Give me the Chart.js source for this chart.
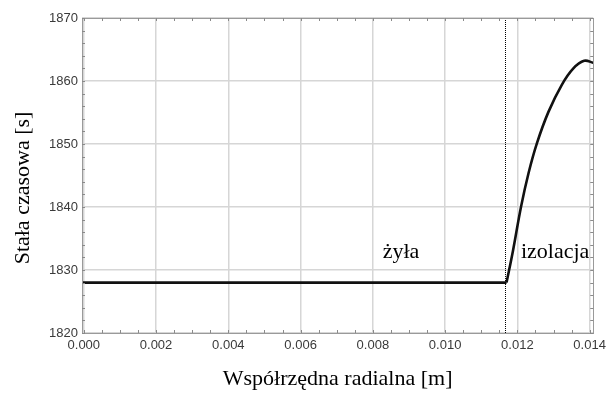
<!DOCTYPE html>
<html>
<head>
<meta charset="utf-8">
<script src="https://cdn.jsdelivr.net/npm/chart.js@4.4.1/dist/chart.umd.min.js"></script>
<style>
  html, body { margin: 0; padding: 0; background: #fff; }
  #wrap { width: 611px; height: 394px; }
</style>
</head>
<body>
<div id="wrap"><canvas id="chart"></canvas></div>
<script>
// core region: constant value
const coreX = [-0.00005, 0.0117];
const coreY = [1828, 1828];

// insulation region
const insX = [0.0117, 0.01188, 0.0121, 0.01231, 0.01254, 0.01286, 0.01323, 0.01355, 0.01385, 0.0141];
const insY = [1828, 1833.1, 1840.0, 1845.4, 1850.1, 1855.1, 1859.4, 1862.0, 1863.2, 1862.9];

const boundaryX = 0.01165;

const regionLabels = ['żyła', 'izolacja'];
const regionLabelX = [0.00878, 0.0121];
const regionLabelY = [1832.9, 1832.9];
const regionLabelAlign = ['center', 'left'];

const yTitle = 'Stała czasowa [s]';
const xTitle = 'Współrzędna radialna [m]';

const serif = '"Liberation Serif", "Times New Roman", serif';
const sans = '"Liberation Sans", Arial, sans-serif';

const toPoints = (xs, ys) => xs.map((x, i) => ({ x: x, y: ys[i] }));

const framePlugin = {
    id: 'frame',
    afterDraw(chart) {
        const ctx = chart.ctx;
        const a = chart.chartArea;
        const xs = chart.scales.x;
        const ys = chart.scales.y;
        ctx.save();

        // dotted boundary line
        const bx = Math.round(xs.getPixelForValue(boundaryX)) + 0.5;
        ctx.strokeStyle = '#000';
        ctx.lineWidth = 1;
        ctx.setLineDash([1, 1]);
        ctx.beginPath();
        ctx.moveTo(bx, a.top);
        ctx.lineTo(bx, a.bottom);
        ctx.stroke();
        ctx.setLineDash([]);

        // frame
        ctx.strokeStyle = '#9a9a9a';
        ctx.lineWidth = 1;
        ctx.strokeRect(Math.round(a.left) + 0.5, Math.round(a.top) + 0.5,
            Math.round(a.right - a.left), Math.round(a.bottom - a.top));

        // minor ticks
        ctx.strokeStyle = '#8a8a8a';
        for (let v = 0; v <= 0.014 + 1e-9; v += 0.0005) {
            const px = Math.round(xs.getPixelForValue(v)) + 0.5;
            ctx.beginPath();
            ctx.moveTo(px, a.bottom); ctx.lineTo(px, a.bottom - 3);
            ctx.moveTo(px, a.top); ctx.lineTo(px, a.top + 3);
            ctx.stroke();
        }
        for (let v = 1820; v <= 1870; v += 2) {
            const py = Math.round(ys.getPixelForValue(v)) + 0.5;
            ctx.beginPath();
            ctx.moveTo(a.left, py); ctx.lineTo(a.left + 3, py);
            ctx.moveTo(a.right, py); ctx.lineTo(a.right - 3, py);
            ctx.stroke();
        }

        // region labels
        ctx.fillStyle = '#000';
        ctx.font = '22px ' + serif;
        ctx.textBaseline = 'middle';
        regionLabels.forEach((t, i) => {
            ctx.textAlign = regionLabelAlign[i];
            ctx.fillText(t, xs.getPixelForValue(regionLabelX[i]), ys.getPixelForValue(regionLabelY[i]));
        });

        // y title, sits a bit below the plot's centre in the original
        ctx.translate(23, 188);
        ctx.rotate(-Math.PI / 2);
        ctx.textAlign = 'center';
        ctx.fillText(yTitle, 0, 0);
        ctx.restore();
    }
};

const lineStyle = {
    borderColor: '#111',
    borderWidth: 2.6,
    pointRadius: 0,
    fill: false
};

new Chart(document.getElementById('chart'), {
    type: 'line',
    data: {
        datasets: [
            Object.assign({ label: 'żyła', data: toPoints(coreX, coreY), tension: 0 }, lineStyle),
            Object.assign({ label: 'izolacja', data: toPoints(insX, insY), tension: 0.4 }, lineStyle)
        ]
    },
    options: {
        responsive: true,
        maintainAspectRatio: false,
        animation: false,
        layout: { padding: { top: 18, right: 14, left: 0, bottom: 0 } },
        plugins: { legend: { display: false }, tooltip: { enabled: false } },
        scales: {
            x: {
                type: 'linear',
                min: -0.00005,
                max: 0.0141,
                afterFit(s) { s.height = 61; },
                grid: { color: '#d6d6d6', lineWidth: 1.5, drawTicks: false },
                border: { display: false },
                ticks: {
                    stepSize: 0.002,
                    includeBounds: false,
                    padding: 5,
                    color: '#3a3a3a',
                    font: { family: sans, size: 13 },
                    callback: v => Math.abs(v).toFixed(3),
                    maxRotation: 0
                },
                title: {
                    display: true,
                    text: xTitle,
                    color: '#000',
                    font: { family: serif, size: 22 },
                    padding: { top: 0, bottom: 2 }
                }
            },
            y: {
                min: 1820,
                max: 1870,
                afterFit(s) { s.width = 82; },
                grid: { color: '#d6d6d6', lineWidth: 1.5, drawTicks: false },
                border: { display: false },
                ticks: {
                    stepSize: 10,
                    padding: 4,
                    color: '#3a3a3a',
                    font: { family: sans, size: 13 },
                    callback: v => String(v)
                }
            }
        }
    },
    plugins: [framePlugin]
});
</script>
</body>
</html>
